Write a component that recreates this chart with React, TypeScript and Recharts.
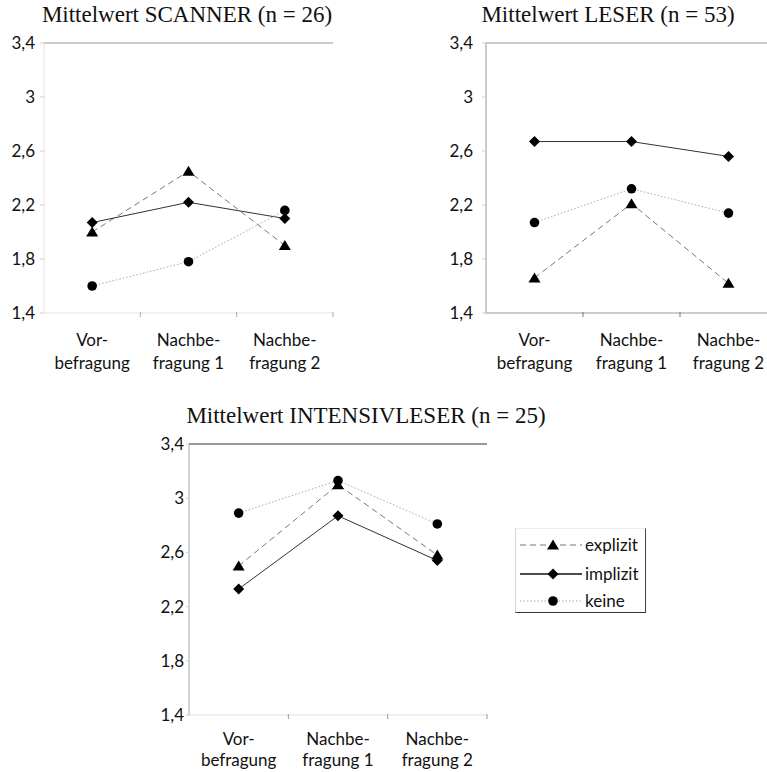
import React from 'react';
import { Legend, Line, LineChart, ReferenceLine, XAxis, YAxis } from 'recharts';

const categories = ['Vorbefragung', 'Nachbefragung 1', 'Nachbefragung 2'];
const categoryLines = [
  ['Vor-', 'befragung'],
  ['Nachbe-', 'fragung 1'],
  ['Nachbe-', 'fragung 2']
];
const yTicks = [1.4, 1.8, 2.2, 2.6, 3, 3.4];

const scannerExplizit = [2.0, 2.45, 1.9];
const scannerImplizit = [2.07, 2.22, 2.1];
const scannerKeine = [1.6, 1.78, 2.16];

const leserExplizit = [1.66, 2.21, 1.62];
const leserImplizit = [2.67, 2.67, 2.56];
const leserKeine = [2.07, 2.32, 2.14];

const intensivExplizit = [2.5, 3.1, 2.58];
const intensivImplizit = [2.33, 2.87, 2.54];
const intensivKeine = [2.89, 3.13, 2.81];

const seriesNames = ['explizit', 'implizit', 'keine'];

type Row = { cat: string; explizit: number; implizit: number; keine: number };

const buildRows = (ex: number[], im: number[], ke: number[]): Row[] =>
  categories.map((cat, i) => ({ cat, explizit: ex[i], implizit: im[i], keine: ke[i] }));

const scannerRows = buildRows(scannerExplizit, scannerImplizit, scannerKeine);
const leserRows = buildRows(leserExplizit, leserImplizit, leserKeine);
const intensivRows = buildRows(intensivExplizit, intensivImplizit, intensivKeine);

const sansFont = 'Lato, "Open Sans", sans-serif';
const serifFont = '"Liberation Serif", "DejaVu Serif", serif';

// marker shapes, drawn around the point the library hands us
const TriangleDot = ({ cx, cy }: any) => {
  if (cx == null || cy == null) return null;
  return <path d={`M${cx},${cy - 5.5} L${cx + 6},${cy + 4.5} L${cx - 6},${cy + 4.5} Z`} fill="#000" />;
};

const DiamondDot = ({ cx, cy }: any) => {
  if (cx == null || cy == null) return null;
  return <path d={`M${cx},${cy - 5.5} L${cx + 5.5},${cy} L${cx},${cy + 5.5} L${cx - 5.5},${cy} Z`} fill="#000" />;
};

const CircleDot = ({ cx, cy }: any) => {
  if (cx == null || cy == null) return null;
  return <circle cx={cx} cy={cy} r={4.8} fill="#000" />;
};

const seriesStyle: Record<string, { stroke: string; dash?: string; Dot: (p: any) => any }> = {
  explizit: { stroke: '#777', dash: '6 4', Dot: TriangleDot },
  implizit: { stroke: '#333', Dot: DiamondDot },
  keine: { stroke: '#aaa', dash: '1.5 2', Dot: CircleDot }
};

const formatY = (v: number) => String(v).replace('.', ',');

const makeXTick = (dy1: number, dy2: number) => (props: any) => {
  const { x, y, payload } = props;
  const idx = categories.indexOf(payload.value);
  const lines = categoryLines[idx] ?? [String(payload.value), ''];
  const common = { x, textAnchor: 'middle' as const, fill: '#111', fontSize: 17, fontFamily: sansFont };
  return (
    <g>
      <text {...common} y={y + dy1}>{lines[0]}</text>
      <text {...common} y={y + dy2}>{lines[1]}</text>
    </g>
  );
};

// Excel-style tick marks sit between categories, i.e. at the right edge of each band
const makeEdgeTick = (halfBand: number, color: string) => (props: any) => {
  const { x, y } = props;
  return <line x1={x + halfBand} x2={x + halfBand} y1={y - 1} y2={y + 4} stroke={color} />;
};

const LegendBox = ({ payload }: any) => {
  const names: string[] = payload && payload.length ? payload.map((p: any) => p.value) : seriesNames;
  const rowTops = [6, 35, 62];
  return (
    <div
      style={{
        width: 131,
        height: 85,
        boxSizing: 'border-box',
        position: 'relative',
        borderLeft: '1px solid #d4d4d4',
        borderTop: '1px solid #eeeeee',
        borderRight: '1.5px solid #444',
        borderBottom: '1.5px solid #333',
        fontFamily: sansFont,
        fontSize: 17,
        color: '#111'
      }}
    >
      {names.map((name, i) => {
        const st = seriesStyle[name];
        const Dot = st.Dot;
        return (
          <div key={name} style={{ position: 'absolute', left: 0, top: rowTops[i], height: 20, display: 'flex', alignItems: 'center' }}>
            <svg width={69} height={20} style={{ display: 'block' }}>
              <line x1={4} x2={66} y1={10} y2={10} stroke={name === 'implizit' ? '#111' : st.stroke} strokeWidth={name === 'implizit' ? 1.3 : 1} strokeDasharray={st.dash} />
              <Dot cx={37} cy={10} />
            </svg>
            <span style={{ lineHeight: '20px' }}>{name}</span>
          </div>
        );
      })}
    </div>
  );
};

type PanelProps = {
  rows: Row[];
  width: number;
  height: number;
  margin: { top: number; right: number; bottom: number; left: number };
  yAxisWidth: number;
  yTickSize: number;
  yTickMargin: number;
  xAxisHeight: number;
  labelDy: [number, number];
  leftLine: string;
  bottomLine: string;
  topLine: string;
  rightLine?: string;
  edgeTickColor: string;
  withLegend?: boolean;
};

function Panel(p: PanelProps) {
  const plotWidth = p.width - p.margin.left - p.margin.right - p.yAxisWidth;
  const halfBand = plotWidth / p.rows.length / 2;
  return (
    <LineChart width={p.width} height={p.height} data={p.rows} margin={p.margin}>
      <XAxis
        xAxisId="edge"
        dataKey="cat"
        scale="band"
        interval={0}
        tickSize={0}
        tickMargin={0}
        tickLine={false}
        tick={makeEdgeTick(halfBand, p.edgeTickColor)}
        axisLine={{ stroke: p.bottomLine }}
        height={1}
      />
      <XAxis
        xAxisId="labels"
        dataKey="cat"
        scale="band"
        height={p.xAxisHeight - 1}
        tickSize={0}
        tickMargin={0}
        tickLine={false}
        axisLine={false}
        interval={0}
        tick={makeXTick(p.labelDy[0], p.labelDy[1])}
      />
      <YAxis
        width={p.yAxisWidth}
        domain={[1.4, 3.4]}
        ticks={yTicks}
        interval={0}
        tickFormatter={formatY}
        tickSize={p.yTickSize}
        tickMargin={p.yTickMargin}
        tickLine={{ stroke: '#cfcfcf' }}
        axisLine={{ stroke: p.leftLine }}
        tick={{ fill: '#111', fontSize: 17, fontFamily: sansFont }}
      />
      {p.rightLine && (
        <YAxis
          yAxisId="right"
          orientation="right"
          width={0}
          domain={[1.4, 3.4]}
          tick={false}
          tickLine={false}
          axisLine={{ stroke: p.rightLine }}
        />
      )}
      <ReferenceLine xAxisId="labels" y={3.4} stroke={p.topLine} strokeWidth={1.2} />
      {seriesNames.map((name) => {
        const st = seriesStyle[name];
        const Dot = st.Dot;
        return (
          <Line
            key={name}
            xAxisId="labels"
            type="linear"
            dataKey={name}
            name={name}
            stroke={st.stroke}
            strokeWidth={1}
            strokeDasharray={st.dash}
            dot={(d: any) => <Dot key={`${name}-${d.index}`} cx={d.cx} cy={d.cy} />}
            activeDot={false}
            legendType="line"
            isAnimationActive={false}
          />
        );
      })}
      {p.withLegend && (
        <Legend
          layout="vertical"
          align="center"
          verticalAlign="middle"
          wrapperStyle={{ left: 515, top: 148, width: 131, height: 85 }}
          content={LegendBox}
        />
      )}
    </LineChart>
  );
}

const Title = ({ text, center, baseline }: { text: string; center: number; baseline: number }) => (
  <div
    style={{
      position: 'absolute',
      left: center - 220,
      width: 440,
      top: baseline - 19,
      textAlign: 'center',
      fontFamily: serifFont,
      fontSize: 23,
      lineHeight: '23px',
      color: '#111',
      whiteSpace: 'nowrap'
    }}
  >
    {text}
  </div>
);

export default function App() {
  return (
    <div style={{ position: 'absolute', left: 0, top: 0, width: 767, height: 772, overflow: 'hidden', background: '#fff' }}>
      <div style={{ position: 'absolute', left: 0, top: 0 }}>
        <Panel
          rows={scannerRows}
          width={340}
          height={380}
          margin={{ top: 43, right: 7, bottom: 0, left: 0 }}
          yAxisWidth={44}
          yTickSize={4}
          yTickMargin={5}
          xAxisHeight={67}
          labelDy={[32, 55]}
          leftLine="#e4e4e4"
          bottomLine="#e4e4e4"
          topLine="#999"
          rightLine="#999"
          edgeTickColor="#aaa"
        />
      </div>
      <div style={{ position: 'absolute', left: 440, top: 0 }}>
        <Panel
          rows={leserRows}
          width={340}
          height={380}
          margin={{ top: 43, right: 3, bottom: 0, left: 0 }}
          yAxisWidth={46}
          yTickSize={4}
          yTickMargin={9}
          xAxisHeight={67}
          labelDy={[32, 55]}
          leftLine="#999"
          bottomLine="#999"
          topLine="#999"
          edgeTickColor="#777"
        />
      </div>
      <div style={{ position: 'absolute', left: 0, top: 380 }}>
        <Panel
          rows={intensivRows}
          width={767}
          height={392}
          margin={{ top: 64, right: 280, bottom: 0, left: 0 }}
          yAxisWidth={189}
          yTickSize={3}
          yTickMargin={2}
          xAxisHeight={57}
          labelDy={[29, 50]}
          leftLine="#aaa"
          bottomLine="#e0e0e0"
          topLine="#333"
          edgeTickColor="#999"
          withLegend
        />
      </div>
      <Title text="Mittelwert SCANNER (n = 26)" center={187} baseline={22} />
      <Title text="Mittelwert LESER (n = 53)" center={608} baseline={22} />
      <Title text="Mittelwert INTENSIVLESER (n = 25)" center={366} baseline={423} />
    </div>
  );
}
